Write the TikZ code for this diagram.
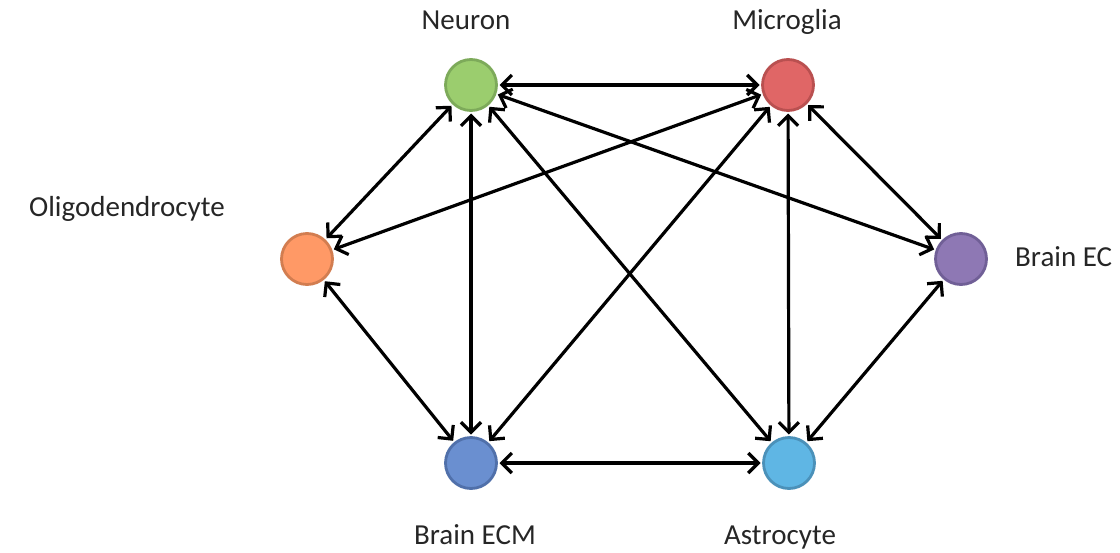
\documentclass[tikz,border=0pt]{standalone}
\usepackage{fontspec}
\setmainfont{Carlito}
\usetikzlibrary{arrows.meta}
\definecolor{cNeu}{RGB}{155,205,110}
\definecolor{cNeuB}{RGB}{125,170,90}
\definecolor{cMic}{RGB}{224,102,102}
\definecolor{cMicB}{RGB}{185,80,80}
\definecolor{cOli}{RGB}{255,153,102}
\definecolor{cOliB}{RGB}{210,125,80}
\definecolor{cBec}{RGB}{142,120,180}
\definecolor{cBecB}{RGB}{112,95,150}
\definecolor{cEcm}{RGB}{106,143,208}
\definecolor{cEcmB}{RGB}{80,112,170}
\definecolor{cAst}{RGB}{95,182,228}
\definecolor{cAstB}{RGB}{75,145,185}
\tikzset{
  cell/.style={circle, minimum size=51pt, inner sep=0pt, line width=2.8pt, outer sep=3pt},
  lab/.style={font=\fontsize{29}{34}\selectfont, text=black!85, inner sep=0pt},
  link/.style={line width=3.2pt, {Straight Barb[length=10pt,width=20pt,line width=3.2pt]}-{Straight Barb[length=10pt,width=20pt,line width=3.2pt]}}
}
\begin{document}
\begin{tikzpicture}[x=1pt,y=-1pt]
\useasboundingbox (0,0) rectangle (1120,552);
\node[cell, fill=cNeu, draw=cNeuB] (neu) at (471,85) {};
\node[cell, fill=cMic, draw=cMicB] (mic) at (788,85) {};
\node[cell, fill=cOli, draw=cOliB] (oli) at (307,259) {};
\node[cell, fill=cBec, draw=cBecB] (bec) at (961,259) {};
\node[cell, fill=cEcm, draw=cEcmB] (ecm) at (471,463) {};
\node[cell, fill=cAst, draw=cAstB] (ast) at (789,463) {};
\node[lab, anchor=base] (tneu) at (466,29) {Neuron};
\node[lab, anchor=base] (tmic) at (787,29) {Microglia};
\node[lab, anchor=base east] (toli) at (225,216) {Oligodendrocyte};
\node[lab, anchor=base west] (tbec) at (1015,266) {Brain EC};
\node[lab, anchor=base] (tecm) at (475,544) {Brain ECM};
\node[lab, anchor=base] (tast) at (780,544) {Astrocyte};
\draw[link] (neu) -- (mic);
\draw[link] (neu) -- (oli);
\draw[link] (neu) -- (ecm);
\draw[link] (neu) -- (ast);
\draw[link] (neu) -- (bec);
\draw[link] (mic) -- (oli);
\draw[link] (mic) -- (ecm);
\draw[link] (mic) -- (ast);
\draw[link] (mic) -- (bec);
\draw[link] (oli) -- (ecm);
\draw[link] (bec) -- (ast);
\draw[link] (ecm) -- (ast);
\end{tikzpicture}
\end{document}
